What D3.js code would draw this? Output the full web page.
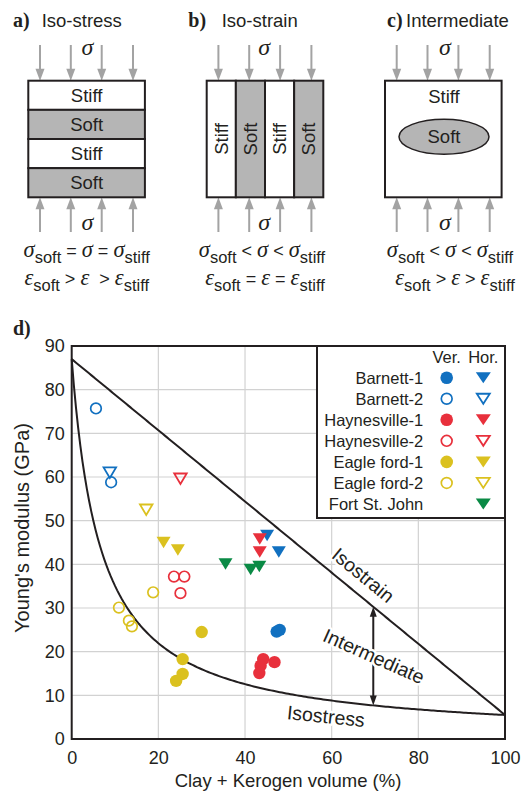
<!DOCTYPE html>
<html>
<head>
<meta charset="utf-8">
<script src="https://cdn.jsdelivr.net/npm/d3@7"></script>
<style>
  html, body { margin: 0; padding: 0; background: #fff; }
  svg { display: block; }
  text { white-space: pre; }
</style>
</head>
<body>
<div id="chart"></div>
<script>
// ---- Measured moduli (GPa) vs. clay + kerogen volume (%) ----
const seriesNames = ["Barnett-1", "Barnett-2", "Haynesville-1", "Haynesville-2",
                     "Eagle ford-1", "Eagle ford-2", "Fort St. John"];
const seriesColors = ["#1170c0", "#1170c0", "#e8303c", "#e8303c",
                      "#dbc11f", "#dbc11f", "#0a8a45"];
const seriesFilled = [true, false, true, false, true, false, true];

// vertical (Ver.) samples: [volume %, modulus GPa]
const barnett1Ver     = [[47.3, 24.6], [48.0, 25.0]];
const barnett2Ver     = [[5.6, 75.7], [9.1, 58.8]];
const haynesville1Ver = [[44.2, 18.3], [46.8, 17.6], [43.6, 16.8], [43.3, 15.1]];
const haynesville2Ver = [[23.6, 37.2], [26.0, 37.2], [25.1, 33.4]];
const eagle1Ver       = [[30.0, 24.5], [25.6, 18.3], [25.6, 14.9], [24.1, 13.3]];
const eagle2Ver       = [[18.8, 33.6], [10.9, 30.1], [13.2, 27.1], [13.9, 25.8]];
const fortVer         = [];

// horizontal (Hor.) samples
const barnett1Hor     = [[45.1, 46.6], [47.8, 42.8]];
const barnett2Hor     = [[8.8, 61.0]];
const haynesville1Hor = [[43.4, 45.8], [43.4, 42.8]];
const haynesville2Hor = [[25.1, 59.6]];
const eagle1Hor       = [[21.2, 45.0], [24.5, 43.3]];
const eagle2Hor       = [[17.2, 52.5]];
const fortHor         = [[35.5, 40.1], [41.3, 38.8], [43.3, 39.5]];

const verSets = [barnett1Ver, barnett2Ver, haynesville1Ver, haynesville2Ver, eagle1Ver, eagle2Ver, fortVer];
const horSets = [barnett1Hor, barnett2Hor, haynesville1Hor, haynesville2Hor, eagle1Hor, eagle2Hor, fortHor];

// end-member moduli for the bounds (GPa)
const stiffModulus = 87;
const softModulus = 5.5;

const xTicks = [0, 20, 40, 60, 80, 100];
const yTicks = [0, 10, 20, 30, 40, 50, 60, 70, 80, 90];

const sans = "'Liberation Sans', Arial, Helvetica, sans-serif";
const serif = "'Liberation Serif', 'Times New Roman', serif";
const ink = "#231f20";
const arrowGray = "#a3a3a3";
const layerGray = "#b5b5b5";

const svg = d3.select("#chart").append("svg")
  .attr("width", 521).attr("height", 793)
  .attr("font-family", sans).attr("fill", ink);

// ================= a) b) c) loading sketches =================
const boxTop = 80.7, boxSize = 116.6;
const arrowOffsets = [11.7, 42.5, 73.4, 104.7];

function arrow(g, x, from, tip, color, headLen, headHalf, width) {
  const dir = tip > from ? 1 : -1;
  g.append("line")
    .attr("x1", x).attr("x2", x)
    .attr("y1", from).attr("y2", tip - dir * (headLen - 1))
    .attr("stroke", color).attr("stroke-width", width);
  g.append("path")
    .attr("d", `M${x - headHalf},${tip - dir * headLen}L${x + headHalf},${tip - dir * headLen}L${x},${tip}Z`)
    .attr("fill", color);
}

function loads(g, left, sigmaDx) {
  arrowOffsets.forEach(o => {
    arrow(g, left + o, 45, boxTop, arrowGray, 12, 4.5, 2);
    arrow(g, left + o, 232, boxTop + boxSize, arrowGray, 12, 4.5, 2);
  });
  g.append("text").attr("x", left + sigmaDx).attr("y", 55)
    .attr("text-anchor", "middle").attr("font-family", serif)
    .attr("font-style", "italic").attr("font-size", 24).text("σ");
  g.append("text").attr("x", left + sigmaDx).attr("y", 230)
    .attr("text-anchor", "middle").attr("font-family", serif)
    .attr("font-style", "italic").attr("font-size", 24).text("σ");
}

function panelTitle(x, letter, labelX, label) {
  svg.append("text").attr("x", x).attr("y", 27)
    .attr("font-family", serif).attr("font-weight", "bold").attr("font-size", 20)
    .text(letter);
  svg.append("text").attr("x", labelX).attr("y", 27)
    .attr("font-size", 18.5).text(label);
}

function equation(cx, baseline, parts) {
  const t = svg.append("text").attr("x", cx).attr("y", baseline)
    .attr("text-anchor", "middle");
  let shift = 0;
  parts.forEach(([s, kind]) => {
    const target = kind === "sub" ? 6 : 0;
    const sp = t.append("tspan").attr("dy", target - shift).text(s);
    shift = target;
    if (kind === "g") sp.attr("font-family", serif).attr("font-style", "italic").attr("font-size", 22.5);
    else if (kind === "sub") sp.attr("font-size", 16.5);
    else sp.attr("font-size", 18);
  });
}

// a) Iso-stress: horizontal layers
{
  const left = 28.3;
  const g = svg.append("g");
  loads(g, left, 59);
  const layers = ["Stiff", "Soft", "Stiff", "Soft"];
  const lh = boxSize / 4;
  layers.forEach((name, i) => {
    g.append("rect").attr("x", left).attr("y", boxTop + i * lh)
      .attr("width", boxSize).attr("height", lh)
      .attr("fill", name === "Soft" ? layerGray : "#fff")
      .attr("stroke", ink).attr("stroke-width", 2);
    g.append("text").attr("x", left + boxSize / 2).attr("y", boxTop + i * lh + lh / 2)
      .attr("dy", "0.36em").attr("text-anchor", "middle").attr("font-size", 18.5).text(name);
  });
  panelTitle(13, "a)", 41.7, "Iso-stress");
  equation(86.7, 257, [["σ", "g"], ["soft", "sub"], [" = ", "op"], ["σ", "g"], [" = ", "op"], ["σ", "g"], ["stiff", "sub"]]);
  equation(86.7, 285, [["ε", "g"], ["soft", "sub"], [" > ", "op"], ["ε", "g"], ["  > ", "op"], ["ε", "g"], ["stiff", "sub"]]);
}

// b) Iso-strain: vertical columns
{
  const left = 206.7;
  const g = svg.append("g");
  loads(g, left, 57.5);
  const cols = ["Stiff", "Soft", "Stiff", "Soft"];
  const cw = boxSize / 4;
  cols.forEach((name, i) => {
    g.append("rect").attr("x", left + i * cw).attr("y", boxTop)
      .attr("width", cw).attr("height", boxSize)
      .attr("fill", name === "Soft" ? layerGray : "#fff")
      .attr("stroke", ink).attr("stroke-width", 2);
    const cx = left + i * cw + cw / 2, cy = boxTop + boxSize / 2;
    g.append("text").attr("transform", `translate(${cx},${cy}) rotate(-90)`)
      .attr("dy", "0.36em").attr("text-anchor", "middle").attr("font-size", 18.5).text(name);
  });
  panelTitle(188.3, "b)", 221.7, "Iso-strain");
  equation(262, 257, [["σ", "g"], ["soft", "sub"], [" < ", "op"], ["σ", "g"], [" < ", "op"], ["σ", "g"], ["stiff", "sub"]]);
  equation(265, 285, [["ε", "g"], ["soft", "sub"], [" = ", "op"], ["ε", "g"], [" = ", "op"], ["ε", "g"], ["stiff", "sub"]]);
}

// c) Intermediate: soft inclusion in stiff matrix
{
  const left = 385;
  const g = svg.append("g");
  loads(g, left, 60);
  g.append("rect").attr("x", left).attr("y", boxTop)
    .attr("width", boxSize).attr("height", boxSize)
    .attr("fill", "#fff").attr("stroke", ink).attr("stroke-width", 2);
  g.append("text").attr("x", 444).attr("y", 103)
    .attr("text-anchor", "middle").attr("font-size", 18.5).text("Stiff");
  g.append("ellipse").attr("cx", 444).attr("cy", 136.7).attr("rx", 45).attr("ry", 17.5)
    .attr("fill", layerGray).attr("stroke", ink).attr("stroke-width", 1.5);
  g.append("text").attr("x", 444).attr("y", 136.7).attr("dy", "0.36em")
    .attr("text-anchor", "middle").attr("font-size", 18.5).text("Soft");
  panelTitle(387, "c)", 406, "Intermediate");
  equation(450, 257, [["σ", "g"], ["soft", "sub"], [" < ", "op"], ["σ", "g"], [" < ", "op"], ["σ", "g"], ["stiff", "sub"]]);
  equation(455, 285, [["ε", "g"], ["soft", "sub"], [" > ", "op"], ["ε", "g"], [" > ", "op"], ["ε", "g"], ["stiff", "sub"]]);
}

// ================= d) modulus vs. clay + kerogen =================
const x = d3.scaleLinear().domain([0, 100]).range([71.7, 505]);
const y = d3.scaleLinear().domain([0, 90]).range([739, 346]);

svg.append("text").attr("x", 13).attr("y", 335)
  .attr("font-family", serif).attr("font-weight", "bold").attr("font-size", 20).text("d)");

// grid
const grid = svg.append("g").attr("stroke", "#d2d2d2").attr("stroke-width", 1.2);
yTicks.filter(v => v > 0 && v < 90).forEach(v => {
  grid.append("line").attr("x1", x(0)).attr("x2", x(100)).attr("y1", y(v)).attr("y2", y(v));
});
xTicks.filter(v => v > 0 && v < 100).forEach(v => {
  grid.append("line").attr("y1", y(0)).attr("y2", y(90)).attr("x1", x(v)).attr("x2", x(v));
});

// axes
const xAxis = svg.append("g").attr("transform", `translate(0,${y(0)})`)
  .call(d3.axisBottom(x).tickValues(xTicks).tickSize(0).tickPadding(12).tickFormat(d3.format("d")));
const yAxis = svg.append("g").attr("transform", `translate(${x(0)},0)`)
  .call(d3.axisLeft(y).tickValues(yTicks).tickSize(0).tickPadding(7).tickFormat(d3.format("d")));
[xAxis, yAxis].forEach(a => {
  a.select(".domain").remove();
  a.selectAll("text").attr("font-family", sans).attr("font-size", 18).attr("fill", ink);
});

svg.append("text").attr("x", 288).attr("y", 787).attr("text-anchor", "middle")
  .attr("font-size", 18.5).text("Clay + Kerogen volume (%)");
svg.append("text").attr("transform", "translate(29,528) rotate(-90)")
  .attr("text-anchor", "middle").attr("font-size", 20).text("Young's modulus (GPa)");

// double arrow between the bounds at 69.6 %
const arrowX = 69.6;
const upperAt = stiffModulus + (softModulus - stiffModulus) * arrowX / 100;
const lowerAt = 1 / ((1 - arrowX / 100) / stiffModulus + (arrowX / 100) / softModulus);
const ag = svg.append("g");
arrow(ag, x(arrowX), (y(upperAt) + y(lowerAt)) / 2, y(upperAt), ink, 10, 3.5, 2);
arrow(ag, x(arrowX), (y(upperAt) + y(lowerAt)) / 2, y(lowerAt), ink, 10, 3.5, 2);

// bound labels with white halo
function boundLabel(cx, cy, angle, s) {
  svg.append("text").attr("transform", `translate(${cx},${cy}) rotate(${angle})`)
    .attr("text-anchor", "middle").attr("dy", "0.36em")
    .attr("font-size", 19.5).attr("stroke", "#fff").attr("stroke-width", 5)
    .attr("paint-order", "stroke").attr("stroke-linejoin", "round").text(s);
}
boundLabel(363.3, 575, 39.5, "Isostrain");
boundLabel(374, 656, 24, "Intermediate");
boundLabel(326, 716, 6, "Isostress");

// Voigt (isostrain) and Reuss (isostress) bounds
const fractions = d3.range(0, 100.5, 0.5);
const voigt = fractions.map(f => [f, stiffModulus + (softModulus - stiffModulus) * f / 100]);
const reuss = fractions.map(f => [f, 1 / ((1 - f / 100) / stiffModulus + (f / 100) / softModulus)]);
const line = d3.line().x(d => x(d[0])).y(d => y(d[1]));
[voigt, reuss].forEach(d => {
  svg.append("path").attr("d", line(d)).attr("fill", "none")
    .attr("stroke", ink).attr("stroke-width", 2);
});

// markers
const tri = (cx, cy, w, h) => `M${cx - w / 2},${cy - h / 2}L${cx + w / 2},${cy - h / 2}L${cx},${cy + h / 2}Z`;
const marks = svg.append("g");
seriesNames.forEach((name, i) => {
  const c = seriesColors[i], filled = seriesFilled[i];
  verSets[i].forEach(p => {
    marks.append("circle").attr("cx", x(p[0])).attr("cy", y(p[1]))
      .attr("r", filled ? 6.2 : 5.3)
      .attr("fill", filled ? c : "none")
      .attr("stroke", filled ? "none" : c).attr("stroke-width", 1.7);
  });
  horSets[i].forEach(p => {
    marks.append("path").attr("d", filled ? tri(x(p[0]), y(p[1]), 14, 11.5) : tri(x(p[0]), y(p[1]), 12.5, 10.5))
      .attr("fill", filled ? c : "none")
      .attr("stroke", filled ? "none" : c).attr("stroke-width", 1.8);
  });
});

// plot frame
svg.append("rect").attr("x", x(0)).attr("y", y(90))
  .attr("width", x(100) - x(0)).attr("height", y(0) - y(90))
  .attr("fill", "none").attr("stroke", ink).attr("stroke-width", 2);

// legend
const lg = svg.append("g");
lg.append("rect").attr("x", 317).attr("y", y(90)).attr("width", x(100) - 317).attr("height", 172)
  .attr("fill", "#fff").attr("stroke", ink).attr("stroke-width", 2);
const verX = 446.7, horX = 483.3, textX = 423.3;
lg.append("text").attr("x", verX).attr("y", 363).attr("text-anchor", "middle").attr("font-size", 16.5).text("Ver.");
lg.append("text").attr("x", horX).attr("y", 363).attr("text-anchor", "middle").attr("font-size", 16.5).text("Hor.");
seriesNames.forEach((name, i) => {
  const cy = 377.7 + i * 21.05;
  const c = seriesColors[i], filled = seriesFilled[i];
  lg.append("text").attr("x", textX).attr("y", cy).attr("dy", "0.36em")
    .attr("text-anchor", "end").attr("font-size", 16.5).text(name);
  if (verSets[i].length) {
    lg.append("circle").attr("cx", verX).attr("cy", cy).attr("r", filled ? 6.3 : 5.4)
      .attr("fill", filled ? c : "none").attr("stroke", filled ? "none" : c).attr("stroke-width", 1.7);
  }
  lg.append("path").attr("d", filled ? tri(horX, cy, 15, 11) : tri(horX, cy, 13, 10))
    .attr("fill", filled ? c : "none").attr("stroke", filled ? "none" : c).attr("stroke-width", 1.8);
});
</script>
</body>
</html>
